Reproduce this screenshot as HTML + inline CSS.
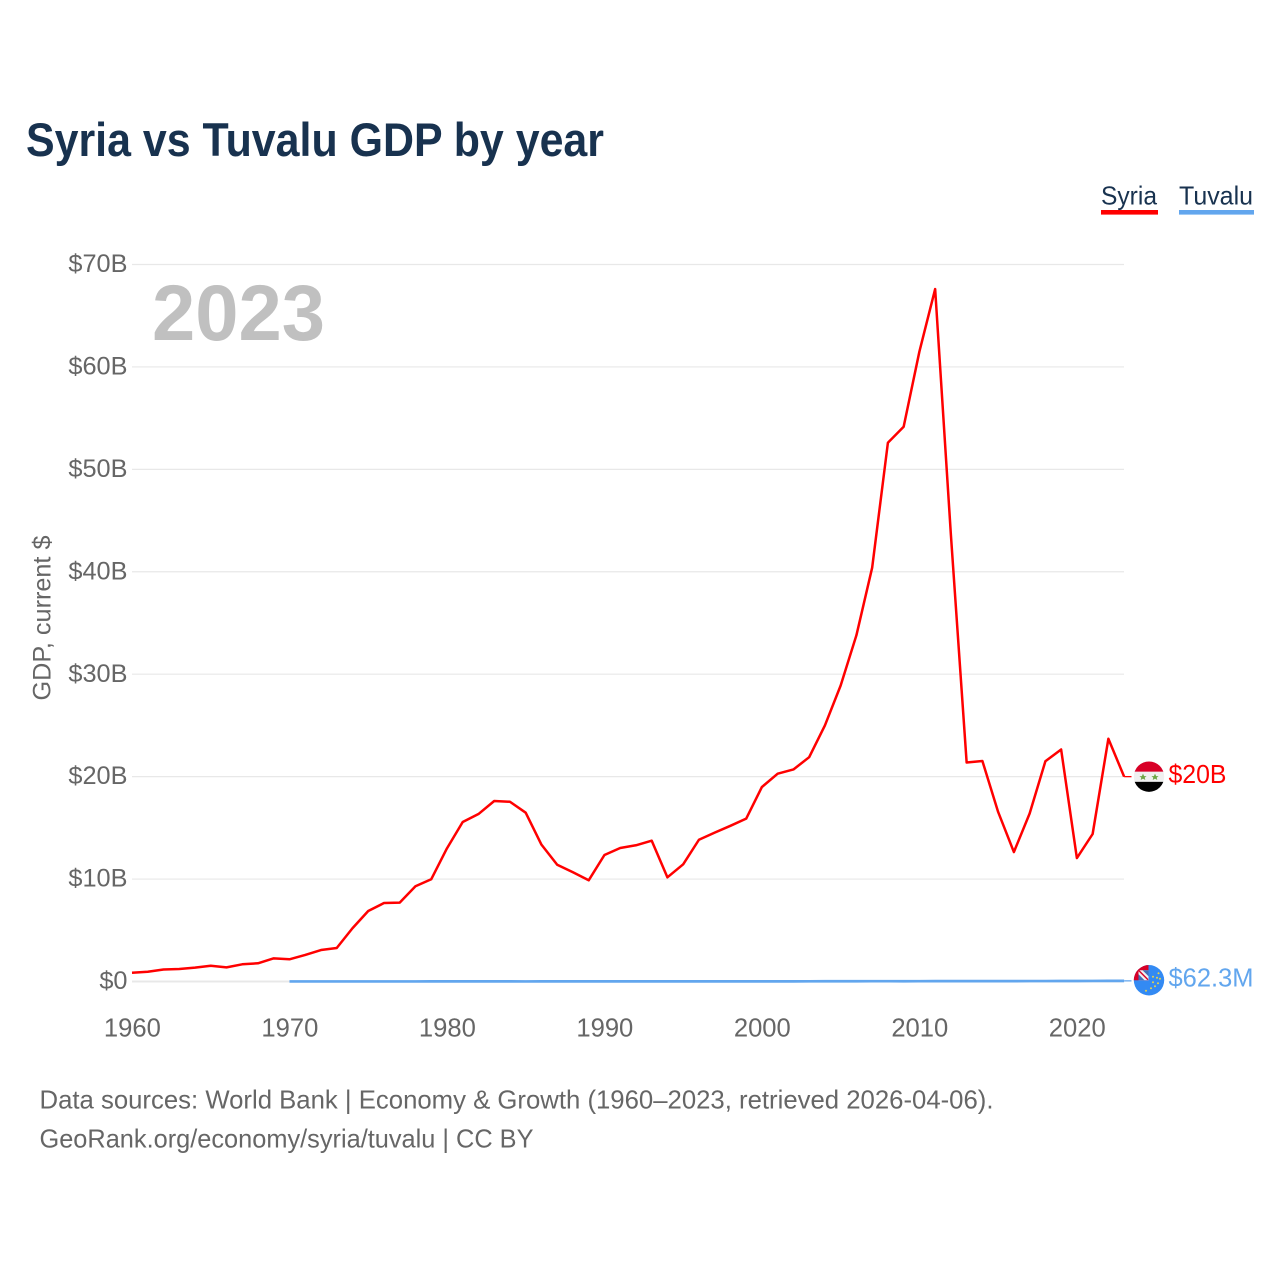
<!DOCTYPE html>
<html lang="en">
<head>
<meta charset="utf-8">
<title>Syria vs Tuvalu GDP by year</title>
<style>
html,body{margin:0;padding:0;background:#fff;width:1280px;height:1280px;overflow:hidden}
svg{display:block;font-family:"Liberation Sans",Arial,sans-serif}
</style>
</head>
<body>
<svg id="chart" xmlns="http://www.w3.org/2000/svg" width="1280" height="1280" viewBox="0 0 1280 1280">
  <defs>
    <clipPath id="clip-syria"><circle cx="0" cy="0" r="15.2"/></clipPath>
    <clipPath id="clip-tuvalu"><circle cx="0" cy="0" r="15.2"/></clipPath>
  </defs>
  <rect x="0" y="0" width="1280" height="1280" fill="#fff"/>
  <text x="26" y="156" font-size="47" font-weight="700" fill="#18324f" textLength="578" lengthAdjust="spacingAndGlyphs">Syria vs Tuvalu GDP by year</text>

  <g>
    <g>
      <text x="1101" y="204.5" font-size="26" fill="#18324f" textLength="56" lengthAdjust="spacingAndGlyphs">Syria</text>
      <rect x="1101" y="210" width="57" height="4.6" fill="#ff0000"/>
    </g>
    <g>
      <text x="1179" y="204.5" font-size="26" fill="#18324f" textLength="74" lengthAdjust="spacingAndGlyphs">Tuvalu</text>
      <rect x="1179" y="210" width="75" height="4.6" fill="#62a6ee"/>
    </g>
  </g>

  <g id="grid"></g>
  <g id="y-axis"></g>
  <g id="x-axis"></g>

  <text transform="translate(50.5 618) rotate(-90)" text-anchor="middle" font-size="25" fill="#666" textLength="165" lengthAdjust="spacingAndGlyphs">GDP, current $</text>
  <text x="152" y="340" font-size="79" font-weight="700" fill="#c0c0c0" textLength="173" lengthAdjust="spacingAndGlyphs">2023</text>

  <g id="series"></g>

  <g id="flag-syria">
    <g clip-path="url(#clip-syria)">
      <rect x="-16" y="-16" width="32" height="32" fill="#f0f0f0"/>
      <rect x="-16" y="-16" width="32" height="11" fill="#d80027"/>
      <rect x="-16" y="5.2" width="32" height="11" fill="#000"/>
      <polygon points="-6,-3 -4.9,-0.5 -2.4,-0.5 -4.3,1 -3.7,3.4 -6,2 -8.3,3.4 -7.7,1 -9.6,-0.5 -7.1,-0.5" fill="#6da544"/>
      <polygon points="6,-3 7.1,-0.5 9.6,-0.5 7.7,1 8.3,3.4 6,2 3.7,3.4 4.3,1 2.4,-0.5 4.9,-0.5" fill="#6da544"/>
    </g>
  </g>

  <g id="flag-tuvalu">
    <g clip-path="url(#clip-tuvalu)">
      <rect x="-16" y="-16" width="32" height="32" fill="#338af3"/>
      <rect x="-16" y="-16" width="15.5" height="16" fill="#d80027"/>
      <rect x="-10.5" y="-10" width="10" height="10" fill="#f0f0f0"/>
      <polygon points="-6.5,-10 -0.5,-10 -0.5,-4" fill="#3f6fb8"/>
      <polygon points="-10.5,-6 -10.5,0 -4.5,0" fill="#3f6fb8"/>
      <line x1="-10.5" y1="-10" x2="-1" y2="-0.5" stroke="#d80027" stroke-width="1.4"/>
      <circle cx="4" cy="-3.5" r="1" fill="#e8d24a"/>
      <circle cx="9.5" cy="-7" r="1" fill="#e8d24a"/>
      <circle cx="8" cy="-2.5" r="1" fill="#e8d24a"/>
      <circle cx="11" cy="-1.5" r="1" fill="#e8d24a"/>
      <circle cx="4" cy="2" r="1" fill="#e8d24a"/>
      <circle cx="9" cy="3" r="1" fill="#e8d24a"/>
      <circle cx="6" cy="6" r="1" fill="#e8d24a"/>
      <circle cx="2" cy="8" r="1" fill="#e8d24a"/>
      <circle cx="-3" cy="10.5" r="1" fill="#e8d24a"/>
    </g>
  </g>

  <text id="label-syria" x="1168.5" font-size="26" fill="#ff0000" textLength="58" lengthAdjust="spacingAndGlyphs"></text>
  <text id="label-tuvalu" x="1168.5" font-size="26" fill="#62a6ee" textLength="85" lengthAdjust="spacingAndGlyphs"></text>

  <g>
    <text x="39.5" y="1108.5" font-size="26" fill="#666" textLength="954" lengthAdjust="spacingAndGlyphs">Data sources: World Bank | Economy &amp; Growth (1960–2023, retrieved 2026-04-06).</text>
    <a>
      <text x="39.5" y="1147.5" font-size="26" fill="#666" textLength="494" lengthAdjust="spacingAndGlyphs">GeoRank.org/economy/syria/tuvalu | CC BY</text>
    </a>
  </g>
</svg>

<script>
const syriaStartYear = 1960;
const syriaValues = [
  0.86, 0.95, 1.17, 1.22, 1.35, 1.54, 1.38, 1.68, 1.78, 2.26,
  2.17, 2.59, 3.07, 3.27, 5.2, 6.88, 7.66, 7.7, 9.3, 9.98,
  13.0, 15.57, 16.35, 17.62, 17.55, 16.48, 13.36, 11.4, 10.66, 9.88,
  12.35, 13.03, 13.3, 13.75, 10.17, 11.44, 13.84, 14.53, 15.2, 15.9,
  18.99, 20.29, 20.7, 21.9, 25.0, 28.9, 33.8, 40.4, 52.6, 54.16,
  61.5, 67.6, 43.6, 21.38, 21.53, 16.55, 12.64, 16.4, 21.5, 22.65,
  12.05, 14.4, 23.7, 20.0
];
const tuvaluStartYear = 1970;
const tuvaluValues = [
  0.005, 0.005, 0.006, 0.007, 0.008, 0.006, 0.006, 0.007, 0.008, 0.009,
  0.010, 0.010, 0.009, 0.009, 0.009, 0.008, 0.009, 0.010, 0.011, 0.011,
  0.011, 0.012, 0.013, 0.013, 0.012, 0.012, 0.013, 0.013, 0.014, 0.014,
  0.014, 0.014, 0.016, 0.018, 0.021, 0.023, 0.025, 0.028, 0.030, 0.027,
  0.032, 0.039, 0.039, 0.038, 0.039, 0.036, 0.037, 0.041, 0.043, 0.047,
  0.049, 0.056, 0.059, 0.0623
];
const yTickValues = [0, 10, 20, 30, 40, 50, 60, 70];
const yTickLabels = ["$0", "$10B", "$20B", "$30B", "$40B", "$50B", "$60B", "$70B"];
const xTickYears = [1960, 1970, 1980, 1990, 2000, 2010, 2020];
const endLabels = ["$20B", "$62.3M"];

const SVG_NS = "http://www.w3.org/2000/svg";
function xScale(year) { return 132 + (year - 1960) * 15.748; }
function yScale(v) { return 981.5 - v * 10.243; }
function make(tag, attrs, parent) {
  const el = document.createElementNS(SVG_NS, tag);
  for (const k in attrs) el.setAttribute(k, attrs[k]);
  parent.appendChild(el);
  return el;
}

const gridGroup = document.getElementById("grid");
const yGroup = document.getElementById("y-axis");
yTickValues.forEach(function (v, i) {
  const line = make("line", {
    x1: 132, x2: 1124, y1: yScale(v), y2: yScale(v),
    stroke: "#e8e8e8", "stroke-width": v === 0 ? 2 : 1.2
  }, gridGroup);
  
  
  const t = make("text", {
    x: 127.5, y: yScale(v) + 7.6, "text-anchor": "end", "font-size": 25.3, fill: "#666"
  }, yGroup);
  
  
  t.textContent = yTickLabels[i];
});

const xGroup = document.getElementById("x-axis");
xTickYears.forEach(function (yr) {
  const t = make("text", {
    x: xScale(yr) + 0.4, y: 1036.7, "text-anchor": "middle", "font-size": 25.6, fill: "#666"
  }, xGroup);
  
  
  t.textContent = String(yr);
});

function linePoints(startYear, values) {
  return values.map(function (v, i) {
    return xScale(startYear + i).toFixed(2) + "," + yScale(v).toFixed(2);
  }).join(" ");
}

const seriesGroup = document.getElementById("series");
const tuvaluLine = make("polyline", {
  points: linePoints(tuvaluStartYear, tuvaluValues),
  fill: "none", stroke: "#62a6ee", "stroke-width": 2.7, "stroke-linejoin": "round"
}, seriesGroup);



const syriaLine = make("polyline", {
  points: linePoints(syriaStartYear, syriaValues),
  fill: "none", stroke: "#ff0000", "stroke-width": 2.5, "stroke-linejoin": "round"
}, seriesGroup);



const syriaLast = yScale(syriaValues[syriaValues.length - 1]);
const tuvaluLast = yScale(tuvaluValues[tuvaluValues.length - 1]);
const lastX = xScale(2023);

const syriaConnector = make("line", {
  x1: lastX, x2: 1131.5, y1: syriaLast, y2: syriaLast, stroke: "#ff0000", "stroke-width": 1.3
}, seriesGroup);



const tuvaluConnector = make("line", {
  x1: lastX, x2: 1131.5, y1: tuvaluLast, y2: tuvaluLast, stroke: "#62a6ee", "stroke-width": 1.3
}, seriesGroup);



document.getElementById("flag-syria").setAttribute("transform", "translate(1149 " + syriaLast.toFixed(2) + ")");
document.getElementById("flag-tuvalu").setAttribute("transform", "translate(1149 " + (tuvaluLast - 0.6).toFixed(2) + ")");

const labelSyria = document.getElementById("label-syria");
labelSyria.setAttribute("y", (syriaLast + 6.2).toFixed(2));
labelSyria.textContent = endLabels[0];
const labelTuvalu = document.getElementById("label-tuvalu");
labelTuvalu.setAttribute("y", (tuvaluLast + 5.8).toFixed(2));
labelTuvalu.textContent = endLabels[1];
</script>
</body>
</html>
